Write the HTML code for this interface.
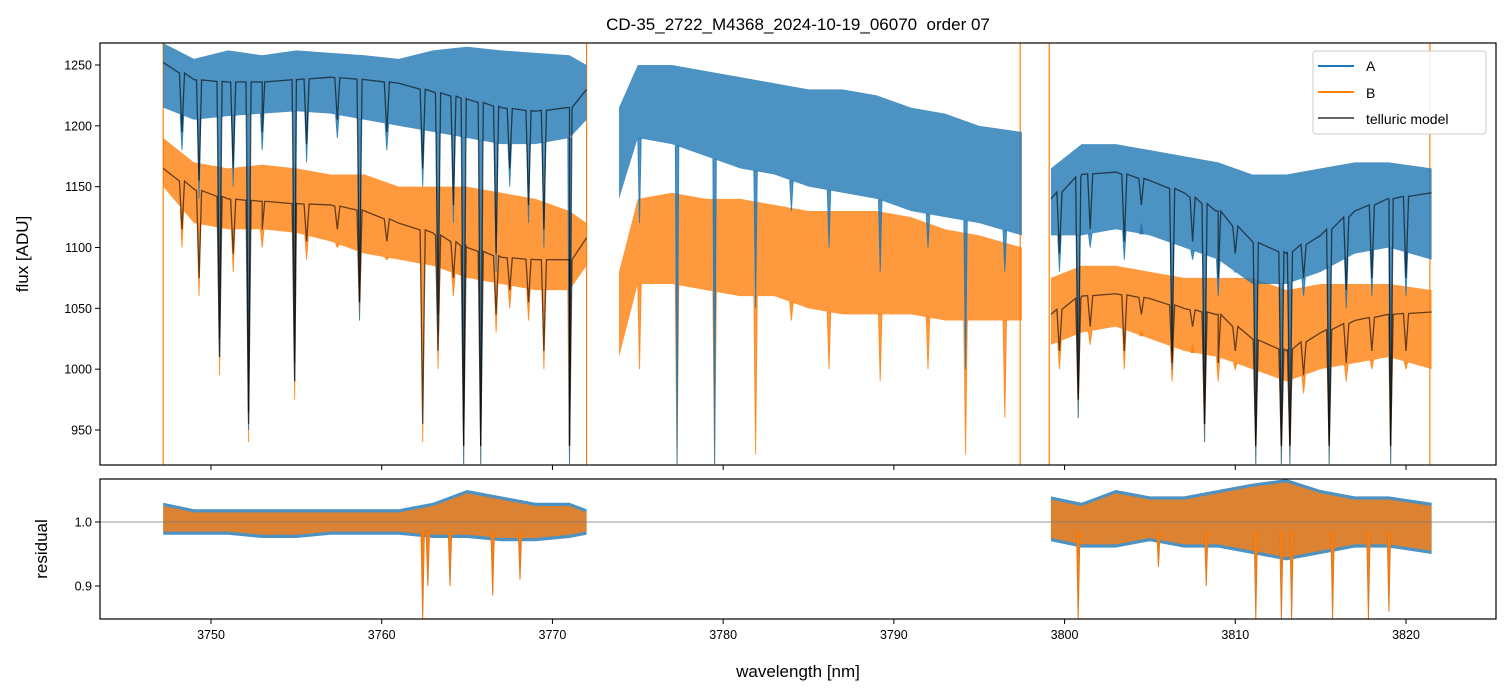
<!DOCTYPE html>
<html><head><meta charset="utf-8"><style>
body{margin:0;background:#fff;}
svg{display:block;font-family:"Liberation Sans","DejaVu Sans",sans-serif;}
</style></head><body>
<svg id="chart" width="1510" height="696" viewBox="0 0 1510 696">
<text x="798" y="30" font-size="17" text-anchor="middle" style="white-space:pre">CD-35_2722_M4368_2024-10-19_06070&#160; order 07</text>
<g id="topPanel"></g>
<g id="botPanel"></g>
</svg>
<script>
// ---- data ----
const segWl1=[3747.2,3749,3751,3753,3755,3757,3759,3761,3763,3765,3767,3769,3771,3772];
const segWl2=[3773.9,3775,3777,3779,3781,3783,3785,3787,3789,3791,3793,3795,3797.5];
const segWl3=[3799.2,3801,3803,3805,3807,3809,3811,3813,3815,3817,3819,3821.5];
const aHi1=[1268,1255,1262,1258,1262,1260,1258,1255,1262,1265,1262,1260,1258,1250];
const aLo1=[1215,1205,1208,1210,1212,1210,1205,1200,1195,1190,1185,1185,1190,1205];
const bHi1=[1190,1170,1165,1168,1165,1160,1160,1150,1150,1150,1145,1140,1130,1120];
const bLo1=[1150,1120,1115,1115,1112,1105,1095,1090,1085,1075,1070,1065,1065,1085];
const aHi2=[1215,1250,1250,1245,1240,1235,1230,1230,1225,1215,1210,1200,1195];
const aLo2=[1140,1190,1185,1175,1165,1160,1150,1145,1140,1130,1125,1120,1110];
const bHi2=[1080,1140,1145,1140,1140,1135,1130,1130,1130,1125,1115,1110,1100];
const bLo2=[1010,1070,1070,1065,1060,1060,1050,1045,1045,1045,1040,1040,1040];
const aHi3=[1165,1185,1185,1180,1175,1170,1160,1160,1165,1170,1170,1165];
const aLo3=[1110,1110,1115,1110,1100,1090,1070,1070,1080,1095,1100,1090];
const bHi3=[1075,1085,1085,1080,1075,1075,1075,1065,1070,1070,1070,1065];
const bLo3=[1020,1030,1035,1025,1015,1010,1000,990,1000,1005,1010,1000];
const mA1=[1252,1238,1236,1236,1238,1240,1238,1235,1228,1222,1215,1212,1215,1230];
const mB1=[1165,1148,1140,1138,1136,1135,1130,1120,1112,1100,1092,1090,1090,1108];
const mA3=[1140,1160,1162,1155,1145,1130,1105,1095,1110,1130,1140,1145];
const mB3=[1045,1060,1062,1058,1050,1045,1025,1015,1030,1040,1045,1047];
const dipWl=[3748.3,3749.3,3750.5,3751.3,3752.2,3753.0,3754.9,3755.6,3757.4,3758.7,3760.3,3762.4,3763.3,3764.2,3764.8,3765.8,3766.7,3767.5,3768.6,3769.5,3771.0,
 3775.1,3777.3,3779.5,3781.9,3784.0,3786.2,3789.2,3792.0,3794.2,3796.5,
 3799.7,3800.8,3801.5,3803.5,3804.5,3806.3,3807.5,3808.2,3809.0,3810.0,3811.2,3812.7,3813.2,3814.0,3815.5,3816.5,3818.0,3819.1,3820.0];
const dipA=[1180,1140,1010,1150,950,1180,990,1170,1190,1040,1180,1150,1030,1120,922,922,1080,1150,1120,1100,922,
 1120,922,922,1050,1130,1100,1080,1100,1000,1080,
 1080,960,1100,1090,1120,1000,1090,940,1060,1080,922,922,922,1060,922,1050,1060,922,1060];
const dipB=[1100,1060,995,1080,940,1100,975,1090,1100,1040,1090,940,1000,1060,922,922,1030,1050,1040,1000,922,
 1000,922,922,930,1040,1000,990,1000,930,960,
 1000,960,1020,1000,1030,990,1020,940,990,1000,922,922,922,980,922,990,1000,922,1000];
const rHi1=[1.03,1.02,1.02,1.02,1.02,1.02,1.02,1.02,1.03,1.05,1.04,1.03,1.03,1.02];
const rLo1=[0.98,0.98,0.98,0.975,0.975,0.98,0.98,0.98,0.975,0.975,0.97,0.97,0.975,0.98];
const rHi3=[1.04,1.03,1.05,1.04,1.04,1.05,1.06,1.067,1.05,1.04,1.04,1.03];
const rLo3=[0.97,0.96,0.96,0.97,0.96,0.96,0.95,0.94,0.95,0.96,0.96,0.95];
const rDipWl=[3762.7,3764.0,3766.5,3768.1,3762.4,3800.8,3805.5,3808.3,3811.2,3812.7,3813.3,3815.7,3817.8,3819.0];
const rDipV=[0.9,0.9,0.885,0.91,0.848,0.848,0.93,0.9,0.848,0.848,0.848,0.848,0.848,0.86];
const vLines=[3747.2,3772.0,3797.4,3799.1,3821.4];
const xTicks=[3750,3760,3770,3780,3790,3800,3810,3820];
const yTicks=[950,1000,1050,1100,1150,1200,1250];
const rTicks=[0.9,1.0];
// ---- axes ----
const L=100,R=1496,T1=43,B1=465,T2=479,B2=619;
const X=w=>211+(w-3750)*(1406-211)/70;
const Y=v=>65+(1250-v)*365/300;
const YR=v=>522+(1-v)*640;
const NS="http://www.w3.org/2000/svg";
const topG=document.getElementById('topPanel'),botG=document.getElementById('botPanel'),svgEl=document.getElementById('chart');
function el(p,t,a){const e=document.createElementNS(NS,t);for(const k in a)e.setAttribute(k,a[k]);p.appendChild(e);return e;}
function defClip(id,y0,y1){const d=el(svgEl,'defs',{});const c=el(d,'clipPath',{id:id});el(c,'rect',{x:L,y:y0,width:R-L,height:y1-y0});}
defClip('c1',T1,B1);defClip('c2',T2,B2);
const g1=el(topG,'g',{'clip-path':'url(#c1)'});
const g2=el(botG,'g',{'clip-path':'url(#c2)'});
function band(g,wl,hi,lo,fy,col,name){
  let p=wl.map((w,i)=>X(w)+','+fy(hi[i])).concat(wl.map((w,i)=>X(w)+','+fy(lo[i])).reverse());
  const e=el(g,'polygon',{points:p.join(' '),fill:col,'fill-opacity':0.8});
  
  
}
function interp(wl,v,w){for(let i=0;i<wl.length-1;i++){if(w>=wl[i]&&w<=wl[i+1]){return v[i]+(v[i+1]-v[i])*(w-wl[i])/(wl[i+1]-wl[i]);}}return null;}
function dips(g,wl,lo,vals,fy,col,name){
  dipWl.forEach((w,i)=>{const b=interp(wl,lo,w);if(b===null)return;
    const e=el(g,'polygon',{points:`${X(w-0.1)},${fy(b)} ${X(w)},${fy(vals[i])} ${X(w+0.1)},${fy(b)}`,fill:col,'fill-opacity':0.8,stroke:col,'stroke-width':1,'stroke-opacity':0.8});
    
    });
}
function model(g,wl,v,vals,name){
  let pts=[];wl.forEach((w,i)=>pts.push([w,v[i]]));
  dipWl.forEach((w,i)=>{if(w>wl[0]+0.15&&w<wl[wl.length-1]-0.15){const b=interp(wl,v,w);pts.push([w-0.15,b]);pts.push([w,vals[i]+15]);pts.push([w+0.15,b]);}});
  pts.sort((a,b)=>a[0]-b[0]);
  const e=el(g,'polyline',{points:pts.map(p=>X(p[0])+','+Y(p[1])).join(' '),fill:'none',stroke:'#000','stroke-opacity':0.6,'stroke-width':1.3});
  
  
}
vLines.forEach(w=>{const e=el(g1,'line',{x1:X(w),x2:X(w),y1:T1,y2:B1,stroke:'#ff7f0e','stroke-width':1.2});
  
  });
[[segWl1,bHi1,bLo1],[segWl2,bHi2,bLo2],[segWl3,bHi3,bLo3]].forEach(s=>{band(g1,s[0],s[1],s[2],Y,'#ff7f0e','series-b-band');dips(g1,s[0],s[2],dipB,Y,'#ff7f0e','series-b-dip');});
[[segWl1,aHi1,aLo1],[segWl2,aHi2,aLo2],[segWl3,aHi3,aLo3]].forEach(s=>{band(g1,s[0],s[1],s[2],Y,'#1f77b4','series-a-band');dips(g1,s[0],s[2],dipA,Y,'#1f77b4','series-a-dip');});
model(g1,segWl1,mA1,dipA,'model-a-seg1');model(g1,segWl1,mB1,dipB,'model-b-seg1');
model(g1,segWl3,mA3,dipA,'model-a-seg3');model(g1,segWl3,mB3,dipB,'model-b-seg3');
band(g2,segWl1,rHi1,rLo1,YR,'#1f77b4','residual-a-seg1');band(g2,segWl1,rHi1.map(v=>v-0.005),rLo1.map(v=>v+0.005),YR,'#ff7f0e','residual-b-seg1');
band(g2,segWl3,rHi3,rLo3,YR,'#1f77b4','residual-a-seg3');band(g2,segWl3,rHi3.map(v=>v-0.005),rLo3.map(v=>v+0.005),YR,'#ff7f0e','residual-b-seg3');
rDipWl.forEach((w,i)=>{const e=el(g2,'polygon',{points:`${X(w-0.1)},${YR(0.985)} ${X(w)},${YR(rDipV[i])} ${X(w+0.1)},${YR(0.985)}`,fill:'#ff7f0e',stroke:'#e07a20','stroke-width':1});
  
  });
const hl=el(g2,'line',{x1:L,x2:R,y1:YR(1),y2:YR(1),stroke:'#777','stroke-width':0.8});


[[T1,B1],[T2,B2]].forEach(f=>{const e=el(svgEl,'rect',{x:L,y:f[0],width:R-L,height:f[1]-f[0],fill:'none',stroke:'#000','stroke-width':1.2});
  
  });
xTicks.forEach(t=>{el(svgEl,'line',{x1:X(t),x2:X(t),y1:B1,y2:B1+5,stroke:'#000'});el(svgEl,'line',{x1:X(t),x2:X(t),y1:B2,y2:B2+5,stroke:'#000'});
  const e=el(svgEl,'text',{x:X(t),y:B2+20,'font-size':12.5,'text-anchor':'middle'});e.textContent=t;
  
  });
yTicks.forEach(t=>{el(svgEl,'line',{x1:L-5,x2:L,y1:Y(t),y2:Y(t),stroke:'#000'});
  const e=el(svgEl,'text',{x:L-8,y:Y(t)+4.5,'font-size':12.5,'text-anchor':'end'});e.textContent=t;
  
  });
rTicks.forEach(t=>{el(svgEl,'line',{x1:L-5,x2:L,y1:YR(t),y2:YR(t),stroke:'#000'});
  const e=el(svgEl,'text',{x:L-8,y:YR(t)+4.5,'font-size':12.5,'text-anchor':'end'});e.textContent=t.toFixed(1);
  
  });
svgEl.insertAdjacentHTML('beforeend','<text x="798" y="677" font-size="17" text-anchor="middle">wavelength [nm]</text>');
svgEl.insertAdjacentHTML('beforeend','<text transform="translate(28,254) rotate(-90)" font-size="17" text-anchor="middle">flux [ADU]</text>');
svgEl.insertAdjacentHTML('beforeend','<text transform="translate(47,549) rotate(-90)" font-size="17" text-anchor="middle">residual</text>');
svgEl.insertAdjacentHTML('beforeend','<g><rect x="1313" y="51" width="173" height="83" rx="3" fill="#fff" fill-opacity="0.85" stroke="#ccc"/>'+
 '<line x1="1318" x2="1354" y1="66" y2="66" stroke="#1f77b4" stroke-width="2"/><text x="1366" y="71" font-size="14">A</text>'+
 '<line x1="1318" x2="1354" y1="92" y2="92" stroke="#ff7f0e" stroke-width="2"/><text x="1366" y="98" font-size="14">B</text>'+
 '<line x1="1318" x2="1354" y1="118" y2="118" stroke="#666" stroke-width="2"/><text x="1366" y="124" font-size="14">telluric model</text></g>');
</script>
</body></html>
